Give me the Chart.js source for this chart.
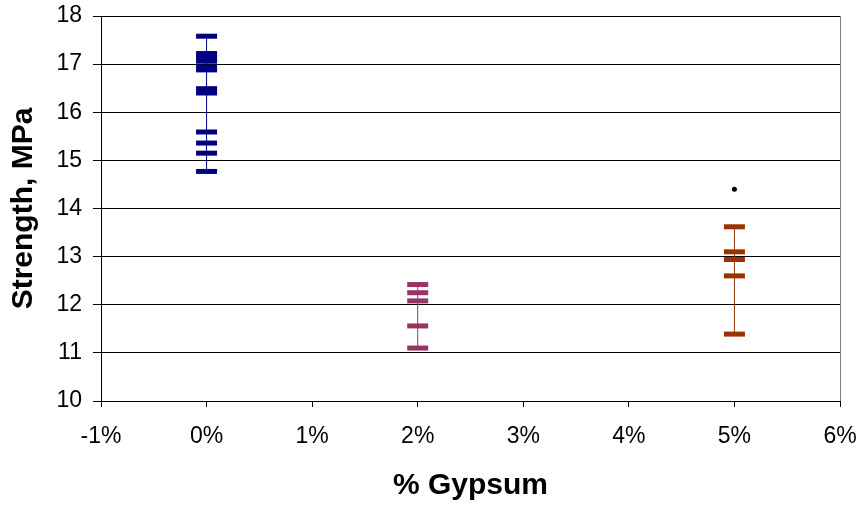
<!DOCTYPE html>
<html>
<head>
<meta charset="utf-8">
<script src="https://cdn.jsdelivr.net/npm/chart.js@4"></script>
<style>
  html, body { margin: 0; padding: 0; background: #fff; }
  #wrap { width: 863px; height: 508px; }
</style>
</head>
<body>
<div id="wrap"><canvas id="chart"></canvas></div>
<script>
// gypsum content, %
var gypsum = [0, 2, 5];
// individual strength results, MPa
var strength0 = [17.58, 17.22, 17.14, 17.06, 16.94, 16.88, 16.49, 16.40, 15.59, 15.36, 15.15, 14.77];
var strength2 = [12.42, 12.25, 12.08, 11.56, 11.10];
var strength5 = [13.62, 13.10, 12.94, 12.60, 11.39];
// outlier
var outlierX = [5];
var outlierY = [14.4];
var colors = ['#000080', '#993366', '#993300'];
var xTicks = [-1, 0, 1, 2, 3, 4, 5, 6];

var groups = [strength0, strength2, strength5];

function pts(x, arr) {
    return arr.map(function(v){ return {x: x, y: v}; });
}

var datasets = [];
for (var i = 0; i < groups.length; i++) {
    // high-low line
    datasets.push({
        data: [{x: gypsum[i], y: Math.min.apply(null, groups[i])}, {x: gypsum[i], y: Math.max.apply(null, groups[i])}],
        showLine: true,
        borderColor: colors[i],
        borderWidth: 1,
        pointRadius: 0
    });
    // dash markers
    datasets.push({
        data: pts(gypsum[i], groups[i]),
        showLine: false,
        pointStyle: 'line',
        pointRadius: 10.5,
        pointBorderWidth: 5,
        pointBorderColor: colors[i],
        borderColor: colors[i]
    });
}
datasets.push({
    data: outlierX.map(function(x, k){ return {x: x, y: outlierY[k]}; }),
    showLine: false,
    pointStyle: 'circle',
    pointRadius: 2.5,
    pointBackgroundColor: '#000',
    pointBorderColor: '#000',
    pointBorderWidth: 0
});

// grey frame on the right edge of the plot area
var frame = {
    id: 'frame',
    beforeDatasetsDraw: function(chart) {
        var a = chart.chartArea, ctx = chart.ctx;
        ctx.save();
        ctx.strokeStyle = '#808080';
        ctx.lineWidth = 1;
        ctx.beginPath();
        ctx.moveTo(a.right + 0.5, a.top);
        ctx.lineTo(a.right + 0.5, a.bottom);
        ctx.stroke();
        ctx.restore();
    }
};

new Chart(document.getElementById('chart'), {
    type: 'scatter',
    data: { datasets: datasets },
    plugins: [frame],
    options: {
        responsive: true,
        maintainAspectRatio: false,
        animation: false,
        layout: { padding: { left: 0, right: 23, top: 16, bottom: 0 } },
        plugins: { legend: { display: false }, tooltip: { enabled: false } },
        scales: {
            x: {
                type: 'linear',
                min: -1,
                max: 6,
                afterBuildTicks: function(axis){ axis.ticks = xTicks.map(function(v){ return {value: v}; }); },
                afterFit: function(axis){ axis.height = 107; axis.paddingLeft = 0; axis.paddingRight = 0; },
                grid: { drawOnChartArea: false, color: '#000', tickLength: 6, tickColor: '#000' },
                border: { color: '#000', width: 1 },
                ticks: {
                    color: '#000',
                    padding: 16,
                    maxRotation: 0,
                    font: { family: 'Liberation Sans, Arial', size: 23 },
                    callback: function(v){ return v + '%'; }
                },
                title: {
                    display: true,
                    text: '% Gypsum',
                    color: '#000',
                    padding: { top: 0, bottom: 4 },
                    font: { family: 'Liberation Sans, Arial', size: 30, weight: 'bold' }
                }
            },
            y: {
                min: 10,
                max: 18,
                afterFit: function(axis){ axis.width = 101; axis.paddingTop = 0; axis.paddingBottom = 0; },
                ticks: {
                    stepSize: 1,
                    color: '#000',
                    padding: 11,
                    font: { family: 'Liberation Sans, Arial', size: 23 }
                },
                grid: { color: '#000', lineWidth: 1, tickLength: 8, tickColor: '#000' },
                border: { color: '#000', width: 1 },
                title: {
                    display: true,
                    text: 'Strength, MPa',
                    color: '#000',
                    padding: { top: 6, bottom: 0 },
                    font: { family: 'Liberation Sans, Arial', size: 30, weight: 'bold' }
                }
            }
        }
    }
});
</script>
</body>
</html>
